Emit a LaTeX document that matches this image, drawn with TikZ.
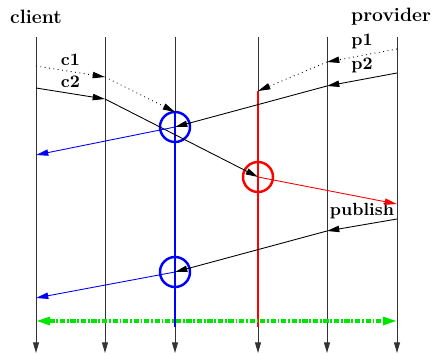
\documentclass[tikz,border=0pt]{standalone}
\usepackage{tikz}
\usetikzlibrary{arrows.meta, shapes.geometric}
\definecolor{vertvif}{RGB}{0, 230, 0}

\begin{document}
\begin{tikzpicture}[x=0.02cm, y=-0.02cm,
    >={Triangle[length=7pt, width=3.6pt]},
    vie/.style={-{Triangle[length=6pt, width=3.4pt]}, line width=0.5pt, draw=black!80},
    message/.style={->, line width=0.5pt},
    pointille/.style={message, dotted},
    etiquette/.style={font=\bfseries, above},
    acteur/.style={font=\fontsize{11}{13}\selectfont\bfseries},
    cercle/.style={circle, draw, line width=1.4pt, minimum size=6mm, inner sep=0pt},
    actif/.style={line width=1.7pt}]
    \useasboundingbox (0,0) rectangle (433,354);
    % acteurs et lignes de vie
    \node[acteur] (client) at (36,17) {client};
    \node[acteur, anchor=east, inner xsep=1pt] (provider) at (433,17) {provider};
    \foreach \nom/\x in {l1/36, l2/105, l3/175, l4/258, l5/327, l6/397} {
      \coordinate (\nom-haut) at (\x,37);
      \coordinate (\nom-bas) at (\x,353);
      \draw[vie] (\nom-haut) -- (\nom-bas);
    }
    % points des messages
    \coordinate (c1-0) at (36,66);   \coordinate (c1-1) at (105,77);  \coordinate (c1-2) at (175,112);
    \coordinate (c2-0) at (36,88);   \coordinate (c2-1) at (105,99);
    \coordinate (p1-0) at (397,49);  \coordinate (p1-1) at (327,62);  \coordinate (p1-2) at (258,91);
    \coordinate (p2-0) at (397,73);  \coordinate (p2-1) at (327,86);
    \coordinate (pu-0) at (397,219); \coordinate (pu-1) at (327,231);
    \coordinate (b1) at (36,155);    \coordinate (b2) at (36,298);
    \coordinate (r1) at (397,204);
    \coordinate (g0) at (36,321);    \coordinate (g1) at (397,321);
    \coordinate (fin-b) at (175,327); \coordinate (fin-r) at (258,327);
    % cercles
    \node[cercle, draw=blue] (cb1) at (175,127) {};
    \node[cercle, draw=red] (cr) at (258,177) {};
    \node[cercle, draw=blue] (cb2) at (175,272) {};
    % phases actives
    \draw[actif, blue] (c1-2) -- (fin-b);
    \draw[actif, red] (p1-2) -- (fin-r);
    % messages du client
    \draw[pointille] (c1-0) -- node[etiquette] {c1} (c1-1);
    \draw[pointille] (c1-1) -- (c1-2);
    \draw[message] (c2-0) -- node[etiquette] {c2} (c2-1);
    \draw[message] (c2-1) -- (cr.center);
    % messages du provider
    \draw[pointille] (p1-0) -- node[etiquette] {p1} (p1-1);
    \draw[pointille] (p1-1) -- (p1-2);
    \draw[message] (p2-0) -- node[etiquette] {p2} (p2-1);
    \draw[message] (p2-1) -- (cb1.center);
    \draw[message] (pu-0) -- node[etiquette] {publish} (pu-1);
    \draw[message] (pu-1) -- (cb2.center);
    % reponses
    \draw[message, blue] (cb1.center) -- (b1);
    \draw[message, red] (cr.center) -- (r1);
    \draw[message, blue] (cb2.center) -- (b2);
    \draw[<->, >={Triangle[length=8pt, width=4.5pt]}, vertvif, line width=1.8pt,
          dash pattern=on 3pt off 1pt on 1pt off 1pt] (g0) -- (g1);
\end{tikzpicture}
\end{document}
